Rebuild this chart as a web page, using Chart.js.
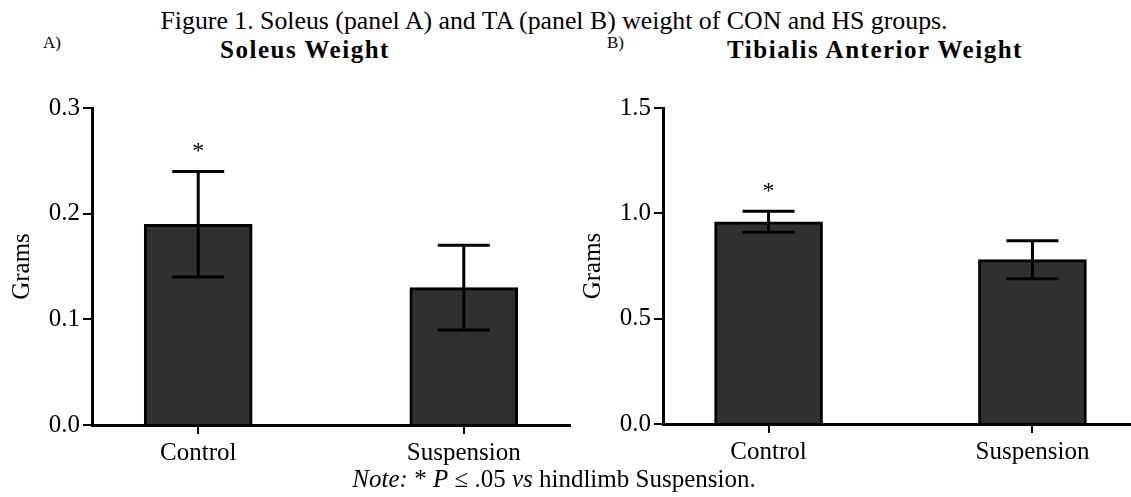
<!DOCTYPE html>
<html>
<head>
<meta charset="utf-8">
<script src="https://cdn.jsdelivr.net/npm/chart.js@4.4.1/dist/chart.umd.min.js"></script>
<style>
  html, body { margin: 0; padding: 0; background: #fff; }
  body { width: 1131px; height: 497px; position: relative; overflow: hidden; font-family: "Liberation Serif", "Times New Roman", serif; color: #000; }
  .abs { position: absolute; white-space: nowrap; }
  #caption { left: 0; width: 1108px; top: 6px; text-align: center; font-size: 25.8px; line-height: 30px; }
  #note { left: 0; width: 1108px; top: 464px; text-align: center; font-size: 25px; line-height: 29px; }
  .plab { font-size: 17px; line-height: 20px; }
  .ptitle { font-weight: bold; font-size: 25px; line-height: 30px; text-align: center; letter-spacing: 1.5px; }
  canvas { position: absolute; top: 0; left: 0; }
</style>
</head>
<body>
<div id="caption" class="abs">Figure 1. Soleus (panel A) and TA (panel B) weight of CON and HS groups.</div>
<div class="abs plab" style="left:43px; top:33px;">A)</div>
<div class="abs ptitle" style="left:155px; width:300px; top:35px;">Soleus Weight</div>
<div class="abs plab" style="left:607px; top:33px;">B)</div>
<div class="abs ptitle" style="left:725px; width:300px; top:35px;">Tibialis Anterior Weight</div>
<div style="position:absolute; left:0; top:0; width:578px; height:497px;"><canvas id="c1" width="578" height="497"></canvas></div>
<div style="position:absolute; left:571px; top:0; width:575px; height:497px;"><canvas id="c2" width="575" height="497"></canvas></div>
<div id="note" class="abs"><i>Note:</i> * <i>P</i> ≤ .05 <i>vs</i> hindlimb Suspension.</div>

<script>
// ---- Data ----
const categories = ['Control', 'Suspension'];
const significant = [true, false];

const soleusMean = [0.19, 0.13];
const soleusLow  = [0.14, 0.09];
const soleusHigh = [0.24, 0.17];
const soleusTicks = [0.0, 0.1, 0.2, 0.3];

const taMean = [0.96, 0.78];
const taLow  = [0.91, 0.69];
const taHigh = [1.01, 0.87];
const taTicks = [0.0, 0.5, 1.0, 1.5];

const yTitle = 'Grams';

// ---- Rendering ----
const FONT = "'Liberation Serif', 'Times New Roman', serif";

const errorBarPlugin = {
  id: 'errorBars',
  afterDatasetsDraw(chart, args, opts) {
    const ctx = chart.ctx;
    const xs = chart.scales.x, ys = chart.scales.y;
    ctx.save();
    ctx.strokeStyle = '#000';
    ctx.lineWidth = 3;
    ctx.lineCap = 'butt';
    opts.low.forEach((lo, i) => {
      const x = xs.getPixelForValue(i);
      const yl = ys.getPixelForValue(lo);
      const yh = ys.getPixelForValue(opts.high[i]);
      const hw = 26;
      ctx.beginPath();
      ctx.moveTo(x, yl); ctx.lineTo(x, yh);
      ctx.moveTo(x - hw, yl); ctx.lineTo(x + hw, yl);
      ctx.moveTo(x - hw, yh); ctx.lineTo(x + hw, yh);
      ctx.stroke();
      if (opts.sig[i]) {
        ctx.fillStyle = '#000';
        ctx.font = '24px ' + FONT;
        ctx.textAlign = 'center';
        ctx.textBaseline = 'middle';
        ctx.fillText('*', x, yh - 20);
      }
    });
    ctx.restore();
  }
};

function makeChart(id, mean, low, high, ticks, xAxisHeight) {
  const data = mean.map((v, i) => ({ x: i, y: v }));
  return new Chart(document.getElementById(id), {
    type: 'bar',
    data: {
      datasets: [{
        data: data,
        backgroundColor: '#303030',
        borderColor: '#000',
        borderWidth: 3,
        borderSkipped: 'bottom',
        barThickness: 108
      }]
    },
    options: {
      responsive: false,
      animation: false,
      events: [],
      layout: { padding: { top: 108, right: 8, bottom: 0, left: 0 } },
      plugins: {
        legend: { display: false },
        tooltip: { enabled: false },
        title: { display: false },
        errorBars: { low: low, high: high, sig: significant }
      },
      scales: {
        x: {
          type: 'linear',
          offset: false,
          min: -0.4,
          max: 1.4,
          afterBuildTicks(scale) { scale.ticks = categories.map((c, i) => ({ value: i })); },
          afterFit(scale) { scale.height = xAxisHeight; },
          ticks: {
            callback: (v) => categories[v],
            color: '#000',
            font: { family: FONT, size: 25 },
            padding: 4,
            maxRotation: 0,
            autoSkip: false
          },
          grid: { display: true, offset: false, drawOnChartArea: false, drawTicks: true, tickLength: 9, color: '#000', lineWidth: 2 },
          border: { display: true, color: '#000', width: 3 }
        },
        y: {
          min: ticks[0],
          max: ticks[ticks.length - 1],
          afterBuildTicks(scale) { scale.ticks = ticks.map(v => ({ value: v })); },
          afterFit(scale) { scale.width = 92; },
          ticks: {
            callback: (v) => Number(v).toFixed(1),
            color: '#000',
            font: { family: FONT, size: 25 },
            padding: 3
          },
          title: {
            display: true,
            text: yTitle,
            color: '#000',
            font: { family: FONT, size: 25 },
            padding: { top: 7, bottom: 0 }
          },
          grid: { display: true, drawOnChartArea: false, drawTicks: true, tickLength: 9, color: '#000', lineWidth: 2 },
          border: { display: true, color: '#000', width: 3 }
        }
      }
    },
    plugins: [errorBarPlugin]
  });
}

makeChart('c1', soleusMean, soleusLow, soleusHigh, soleusTicks, 72);
makeChart('c2', taMean, taLow, taHigh, taTicks, 73);
</script>
</body>
</html>
